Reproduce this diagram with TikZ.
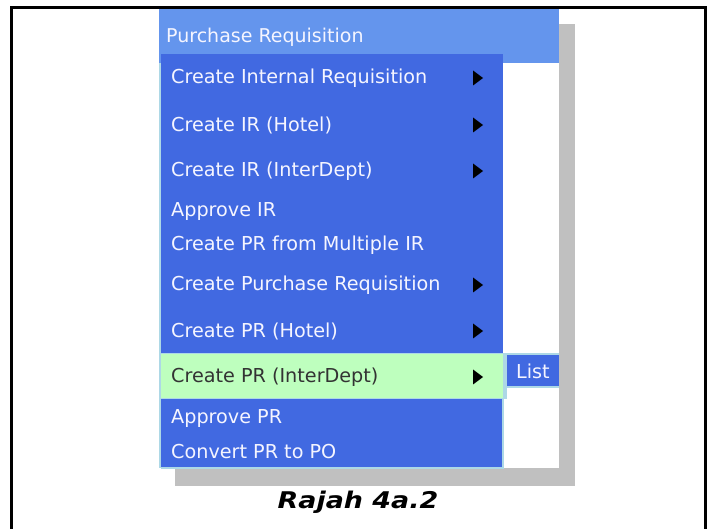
\documentclass[tikz,border=0pt]{standalone}
\usepackage{fontspec}
\setmainfont{DejaVu Sans}
\usetikzlibrary{calc}
\definecolor{titlebar}{RGB}{100,149,237}
\definecolor{menublue}{RGB}{65,105,225}
\definecolor{hilite}{RGB}{190,255,190}
\definecolor{shadowgray}{RGB}{192,192,192}
\definecolor{edgeblue}{RGB}{173,216,230}
\definecolor{menutext}{RGB}{245,245,255}
\tikzset{
  item/.style={anchor=west, inner sep=0pt, text=menutext, font=\fontsize{19.2}{22}\selectfont},
  hiitem/.style={item, text=black!80},
  sub/.style={fill=black},
}
\begin{document}
\begin{tikzpicture}[x=1pt,y=-1pt]
\useasboundingbox (0,0) rectangle (710,529);
\fill[white] (0,0) rectangle (710,529);
% frame
\draw[line width=3pt] (11,7.5) rectangle (705,560);
% drop shadow and screenshot background
\fill[shadowgray] (175,24) rectangle (575,486);
\fill[white] (159,9) rectangle (559,468);
% title bar
\fill[titlebar] (159,9) rectangle (559,63);
\node[item, font=\fontsize{19}{22}\selectfont] (title) at (166,37) {Purchase Requisition};
% edge of the window behind the menu
\fill[edgeblue] (159,63) rectangle (161,468);
% menu body
\fill[menublue] (161,54) rectangle (503,468);
\fill[edgeblue] (161,353) rectangle (507,399);
\fill[hilite] (161,354) rectangle (503,398);
\draw[edgeblue, line width=1.2pt] (503,399) -- (503,468) -- (161,468);
% menu entries
\node[item] (m1) at (171,78) {Create Internal Requisition};
\node[item] (m2) at (171,125) {Create IR (Hotel)};
\node[item] (m3) at (171,171) {Create IR (InterDept)};
\node[item] (m4) at (171,212) {Approve IR};
\node[item] (m5) at (171,245) {Create PR from Multiple IR};
\node[item] (m6) at (171,285) {Create Purchase Requisition};
\node[item] (m7) at (171,331) {Create PR (Hotel)};
\node[hiitem] (m8) at (171,377) {Create PR (InterDept)};
\node[item] (m9) at (171,418) {Approve PR};
\node[item] (m10) at (171,452) {Convert PR to PO};
% submenu arrows
\foreach \m in {m1,m2,m3,m6,m7,m8}{
  \coordinate (a\m) at ($(\m.west)+(302,0)$);
  \fill[sub] ($(a\m)+(0,-7.5)$) -- ($(a\m)+(10,0)$) -- ($(a\m)+(0,7.5)$) -- cycle;
}
% opened submenu
\fill[edgeblue] (506,353) rectangle (559,388);
\fill[menublue] (507,355) rectangle (559,386);
\node[item] (list) at (516,371) {List};
% caption
\node[font=\fontsize{23}{27}\selectfont\bfseries\itshape, inner sep=0pt, xscale=1.17] (cap) at (358,502) {Rajah 4a.2};
\end{tikzpicture}
\end{document}
